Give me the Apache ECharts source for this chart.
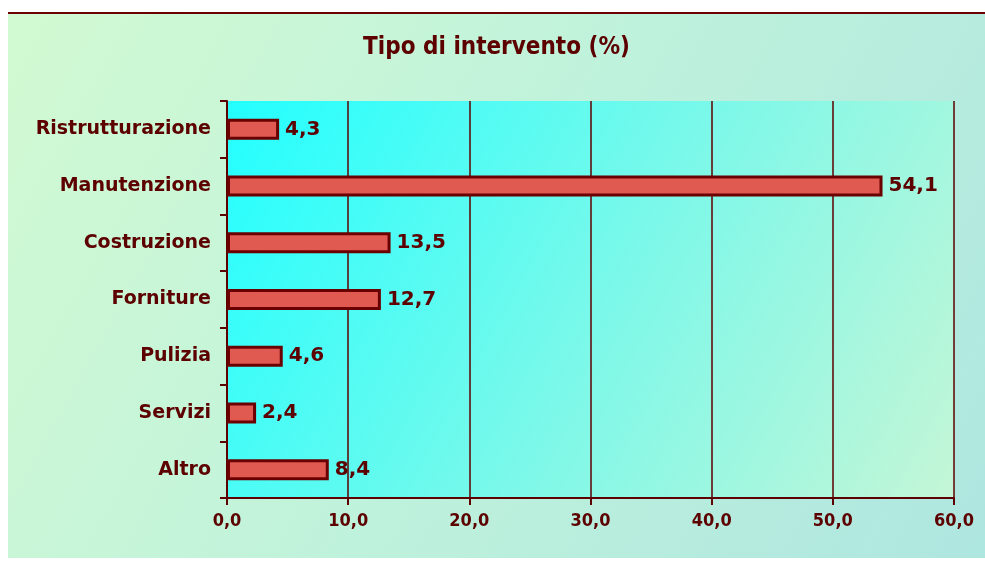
<!DOCTYPE html>
<html>
<head>
<meta charset="utf-8">
<script src="https://cdn.jsdelivr.net/npm/echarts@6/dist/echarts.min.js"></script>
<style>
  html, body { margin: 0; padding: 0; background: #fff; }
  #main { position: absolute; left: 8px; top: 12px; width: 977px; height: 546px;
          border-top: 2px solid #6a0000; box-sizing: border-box; }
</style>
</head>
<body>
<div id="main"></div>
<script>
// categories top to bottom
const categorie = ['Ristrutturazione', 'Manutenzione', 'Costruzione', 'Forniture', 'Pulizia', 'Servizi', 'Altro']
const valori = [4.3, 54.1, 13.5, 12.7, 4.6, 2.4, 8.4]
const titolo = 'Tipo di intervento (%)'

const fmt = v => Number(v).toFixed(1).replace('.', ',')
const scuro = '#5c0000'

let myChart = echarts.init(document.getElementById('main'))
let option = {
  backgroundColor: new echarts.graphic.LinearGradient(0, 0, 1, 1, [
    { offset: 0, color: '#d2fad2' },
    { offset: 0.5, color: '#bff2dc' },
    { offset: 1, color: '#aee6e0' },
  ]),
  title: {
    text: titolo,
    left: 'center',
    top: 17,
    textStyle: {
      fontFamily: 'DejaVu Sans Condensed, Liberation Sans, sans-serif',
      fontWeight: 'bold',
      fontSize: 24,
      color: scuro,
    },
  },
  grid: {
    left: 219,
    right: 31,
    top: 87,
    bottom: 60,
    show: true,
    borderWidth: 0,
    backgroundColor: new echarts.graphic.LinearGradient(0, 0, 1, 1, [
      { offset: 0, color: '#22ffff' },
      { offset: 0.55, color: '#80f8e8' },
      { offset: 1, color: '#c4f6d6' },
    ]),
  },
  xAxis: {
    type: 'value',
    min: 0,
    max: 60,
    interval: 10,
    axisLine: { show: true, lineStyle: { color: scuro, width: 2 } },
    axisTick: { show: true, length: 7, lineStyle: { color: scuro, width: 2 } },
    splitLine: { show: true, lineStyle: { color: scuro, width: 1.5 } },
    axisLabel: {
      formatter: fmt,
      margin: 14,
      color: scuro,
      fontFamily: 'DejaVu Sans Condensed, Liberation Sans, sans-serif',
      fontWeight: 'bold',
      fontSize: 18,
    },
  },
  yAxis: {
    type: 'category',
    data: categorie,
    inverse: true,
    axisLine: { show: true, lineStyle: { color: scuro, width: 2 } },
    axisTick: { show: true, length: 7, inside: false, lineStyle: { color: scuro, width: 2 } },
    axisLabel: {
      margin: 16,
      color: scuro,
      fontFamily: 'DejaVu Sans, sans-serif',
      fontWeight: 'bold',
      fontSize: 19,
    },
  },
  series: [
    {
      type: 'bar',
      data: valori,
      barWidth: 21,
      itemStyle: { color: '#e05a52', borderColor: '#6a0000', borderWidth: 3 },
      label: {
        show: true,
        position: 'right',
        distance: 6,
        formatter: p => fmt(p.value),
        color: scuro,
        fontFamily: 'DejaVu Sans, sans-serif',
        fontWeight: 'bold',
        fontSize: 20,
      },
    },
  ],
}
myChart.setOption(option)
</script>
</body>
</html>
